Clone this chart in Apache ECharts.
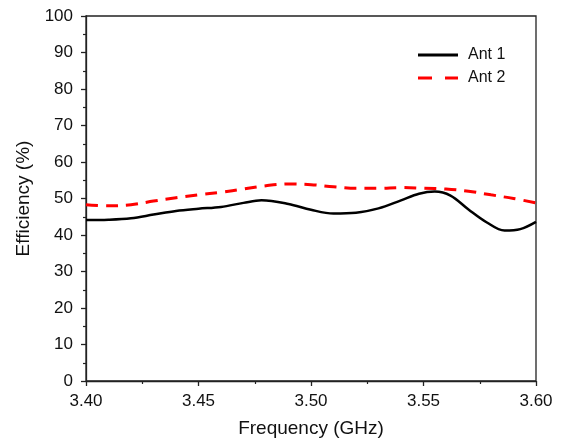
<!DOCTYPE html>
<html><head><meta charset="utf-8">
<script src="https://cdn.jsdelivr.net/npm/echarts@6/dist/echarts.min.js"></script>
<style>html,body{margin:0;padding:0;background:#fff}#c{width:561px;height:443px}</style>
</head><body><div id="c"></div>
<script>
const freq1 = [3.400,3.410,3.420,3.430,3.440,3.450,3.460,3.470,3.478,3.490,3.500,3.510,3.520,3.530,3.540,3.548,3.555,3.562,3.570,3.578,3.586,3.593,3.600];
const ant1  = [44.1, 44.2, 44.6, 45.6, 46.6, 47.2, 47.7, 48.8, 49.5, 48.5, 46.9, 45.9, 46.1, 47.3, 49.5, 51.3, 51.9, 50.8, 47.0, 43.5, 41.2, 41.6, 43.6];
const freq2 = [3.40,3.41,3.42,3.43,3.44,3.45,3.46,3.47,3.48,3.49,3.50,3.51,3.52,3.53,3.54,3.55,3.56,3.57,3.58,3.59,3.60];
const ant2  = [48.3,48.0,48.3,49.3,50.2,51.0,51.7,52.6,53.5,54.0,53.8,53.2,52.8,52.8,53.0,52.8,52.6,52.0,51.0,50.0,48.8];
const seriesNames = ['Ant 1','Ant 2'];
const font = 'Liberation Sans, Arial, sans-serif';
const pairs = (xs,a) => xs.map((f,i)=>[f,a[i]]);
const chart = echarts.init(document.getElementById('c'));
chart.setOption({
  animation:false,
  grid:{left:86,top:16,right:25,bottom:60,show:true,borderColor:'#222',borderWidth:1.3},
  legend:{orient:'vertical',left:418,top:47,padding:0,itemWidth:40,itemHeight:3,itemGap:7,
    textStyle:{fontFamily:font,fontSize:16,color:'#111',padding:[0,0,0,5]},
    data:[{name:seriesNames[0],icon:'path://M0 0h40v3H0z'},
          {name:seriesNames[1],icon:'path://M0 0h14v3H0z M27 0h13v3H27z'}]},
  xAxis:{type:'value',min:3.4,max:3.6,interval:0.05,
    name:'Frequency (GHz)',nameLocation:'middle',nameGap:38,
    nameTextStyle:{fontFamily:font,fontSize:19,color:'#111'},
    axisLine:{lineStyle:{color:'#222',width:1.3}},
    axisTick:{inside:false,length:5,lineStyle:{color:'#222',width:1.3}},
    minorTick:{show:true,splitNumber:2,length:3,lineStyle:{color:'#222',width:1.2}},
    splitLine:{show:false},
    axisLabel:{margin:12,fontFamily:font,fontSize:17,color:'#111',formatter:v=>v.toFixed(2)}},
  yAxis:{type:'value',min:0,max:100,interval:10,
    name:'Efficiency (%)',nameLocation:'middle',nameGap:52,
    nameTextStyle:{fontFamily:font,fontSize:19,color:'#111'},
    axisLine:{show:true,lineStyle:{color:'#222',width:1.3}},
    axisTick:{show:true,inside:false,length:5,lineStyle:{color:'#222',width:1.3}},
    minorTick:{show:true,splitNumber:2,length:3,lineStyle:{color:'#222',width:1.2}},
    splitLine:{show:false},
    axisLabel:{margin:13,fontFamily:font,fontSize:17,color:'#111'}},
  series:[
    {name:seriesNames[0],type:'line',data:pairs(freq1,ant1),smooth:0.35,showSymbol:false,
     lineStyle:{color:'#000',width:2.5},itemStyle:{color:'#000'}},
    {name:seriesNames[1],type:'line',data:pairs(freq2,ant2),smooth:0.35,showSymbol:false,
     lineStyle:{color:'#f00',width:3,type:[12,8]},itemStyle:{color:'#f00'}}
  ]
});
</script></body></html>
